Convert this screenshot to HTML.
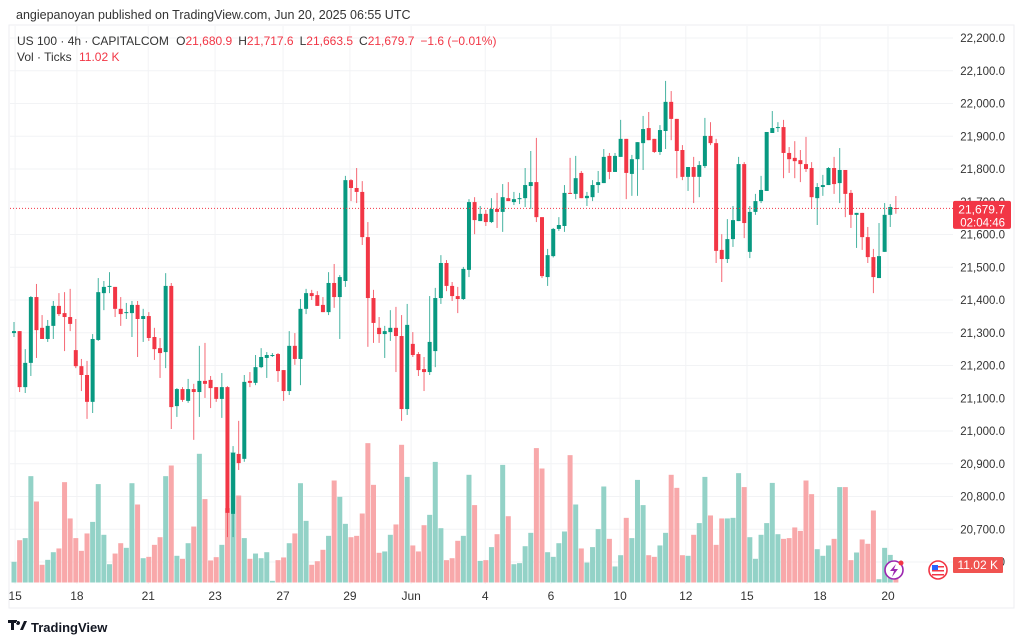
<!DOCTYPE html>
<html><head><meta charset="utf-8">
<style>
html,body{margin:0;padding:0;background:#fff;}
body{width:1024px;height:642px;overflow:hidden;position:relative;font-family:"Liberation Sans",sans-serif;}
#chart{position:absolute;left:0;top:0;}
.t{font-family:"Liberation Sans",sans-serif;}
</style></head>
<body>
<svg id="chart" width="1024" height="642" viewBox="0 0 1024 642">
  <rect x="9" y="25" width="1005" height="583" fill="#fff" stroke="#eceef2" stroke-width="1"/>
  <g id="grid"></g>
  <g id="vols"></g>
  <g id="candles"></g>
  <g id="yaxis"></g>
  <g id="xaxis"></g>
  <text x="16" y="19" font-size="12.5" fill="#333" class="t">angiepanoyan published on TradingView.com, Jun 20, 2025 06:55 UTC</text>
  <text x="17" y="45" font-size="12" fill="#333" class="t">US 100 · 4h · CAPITALCOM  <tspan dx="4">O</tspan><tspan fill="#f23645">21,680.9</tspan><tspan dx="6">H</tspan><tspan fill="#f23645">21,717.6</tspan><tspan dx="6">L</tspan><tspan fill="#f23645">21,663.5</tspan><tspan dx="6">C</tspan><tspan fill="#f23645">21,679.7</tspan><tspan dx="6" fill="#f23645">−1.6 (−0.01%)</tspan></text>
  <text x="17" y="61" font-size="12" fill="#333" class="t">Vol · Ticks <tspan dx="4" fill="#f23645">11.02 K</tspan></text>
  <g>
    <path d="M8 620 h9 v3 h-3 v7 h-3 v-7 h-3z M18 621 a2 2 0 1 0 0.1 0z M20 630 l4 -9 h3 l-4 9z" fill="#131722"/>
    <text x="31" y="632" font-size="13" fill="#131722" class="t" font-weight="bold">TradingView</text>
  </g>
</svg>
<script>
const opens=[21299,21305,21134,21208,21409,21315,21281,21321,21382,21360,21348,21247,21198,21171,21089,21278,21421,21440,21440,21373,21360,21360,21385,21342,21351,21287,21253,21241,21443,21076,21128,21092,21128,21119,21153,21156,21134,21098,21134,20747,20930,20915,21153,21147,21195,21223,21229,21235,21186,21122,21260,21220,21373,21421,21415,21385,21363,21452,21409,21458,21766,21742,21730,21592,21406,21315,21296,21302,21315,21290,21067,21266,21235,21189,21180,21244,21406,21513,21443,21412,21403,21492,21699,21641,21663,21638,21678,21669,21711,21699,21708,21711,21748,21760,21653,21470,21534,21617,21626,21727,21724,21788,21711,21714,21751,21757,21840,21791,21837,21892,21785,21830,21879,21925,21892,21852,21916,22005,21953,21858,21776,21806,21776,21809,21901,21879,21553,21525,21586,21641,21815,21547,21669,21702,21733,21910,21925,21928,21849,21834,21827,21815,21803,21711,21745,21751,21803,21757,21797,21727,21660,21666,21592,21531,21467,21547,21660,21680.9];
const highs=[21333,21305,21250,21412,21449,21354,21339,21397,21421,21424,21434,21342,21220,21214,21296,21467,21458,21485,21440,21409,21391,21397,21397,21373,21363,21315,21284,21482,21452,21131,21134,21159,21144,21260,21269,21168,21134,21177,21137,20954,21031,21171,21180,21232,21253,21241,21238,21238,21186,21305,21299,21403,21434,21431,21427,21409,21485,21510,21476,21779,21769,21803,21763,21638,21431,21348,21321,21369,21379,21354,21388,21302,21241,21226,21412,21437,21537,21522,21455,21440,21501,21708,21714,21687,21675,21711,21727,21754,21760,21730,21727,21803,21855,21895,21653,21556,21620,21653,21751,21834,21840,21794,21730,21766,21794,21861,21849,21849,21950,21892,21843,21882,21962,21974,21892,21934,22069,22038,21953,21873,21806,21837,21824,21956,21943,21892,21601,21647,21687,21837,21821,21687,21724,21779,21913,21977,21943,21950,21867,21885,21858,21898,21821,21757,21782,21806,21837,21864,21797,21736,21666,21666,21623,21556,21635,21696,21693,21717.6];
const lows=[21287,21119,21116,21168,21223,21281,21272,21281,21351,21244,21305,21192,21122,21037,21055,21275,21369,21421,21348,21321,21342,21287,21226,21272,21275,21217,21162,21192,21006,21043,21089,21086,20973,21043,21101,21070,21089,21040,20676,20676,20881,20906,21134,21140,21192,21162,21226,21150,21092,21110,21202,21140,21357,21400,21382,21363,21354,21376,21281,21440,21702,21696,21568,21257,21269,21269,21223,21275,21180,21031,21049,21226,21168,21122,21171,21195,21388,21427,21397,21360,21400,21470,21601,21641,21626,21635,21620,21608,21702,21690,21693,21684,21678,21638,21467,21443,21530,21611,21608,21724,21708,21711,21687,21702,21727,21757,21769,21791,21837,21708,21718,21718,21797,21888,21849,21843,21861,21888,21772,21766,21733,21696,21714,21803,21873,21513,21455,21513,21562,21641,21589,21528,21660,21696,21733,21910,21913,21772,21788,21772,21760,21791,21678,21629,21718,21751,21724,21696,21653,21620,21559,21553,21513,21421,21467,21547,21623,21663.5];
const closes=[21305,21134,21208,21409,21308,21281,21321,21382,21357,21348,21327,21198,21171,21089,21281,21424,21440,21443,21373,21357,21363,21385,21342,21351,21284,21250,21238,21443,21073,21128,21095,21128,21119,21153,21144,21131,21098,21134,20750,20933,20902,21150,21147,21195,21226,21232,21232,21183,21122,21260,21220,21373,21421,21412,21382,21363,21452,21409,21470,21766,21742,21730,21592,21406,21330,21296,21305,21315,21290,21067,21324,21232,21186,21180,21272,21406,21513,21443,21412,21403,21495,21699,21644,21663,21638,21678,21669,21714,21702,21708,21711,21751,21760,21653,21473,21537,21617,21629,21727,21724,21772,21711,21718,21751,21760,21837,21791,21840,21892,21788,21830,21882,21922,21888,21852,21919,22005,21953,21855,21776,21806,21776,21812,21901,21879,21550,21525,21586,21644,21815,21635,21669,21702,21736,21913,21925,21928,21849,21830,21824,21815,21800,21714,21745,21751,21803,21754,21797,21724,21660,21666,21592,21531,21470,21534,21660,21684,21679.7];
const volumes=[13.8,28.2,29.6,70.9,54.0,11.8,15.1,20.2,22.7,66.9,42.7,29.6,21.1,32.7,40.4,65.6,31.8,12.2,19.3,26.2,23.1,66.2,52.0,16.2,17.1,25.1,30.2,70.9,78.0,17.8,15.8,26.2,37.3,85.8,55.6,14.7,16.9,25.1,49.6,86.9,58.0,29.6,15.8,19.3,16.2,20.2,1.1,14.9,16.7,26.2,32.7,66.2,41.1,11.8,14.2,21.8,31.1,68.0,57.1,39.1,30.2,31.1,46.0,92.9,65.1,19.8,20.7,31.8,38.7,91.8,70.4,24.7,20.7,38.2,45.1,80.4,36.2,14.9,16.2,27.8,31.1,71.8,51.6,14.4,14.9,23.6,32.2,78.4,44.2,12.2,12.9,24.2,33.1,89.6,76.0,20.2,17.1,26.2,34.0,84.9,52.0,22.7,13.3,23.6,35.6,64.0,29.1,10.7,18.2,43.1,29.6,68.4,51.6,18.2,17.1,24.7,33.1,71.8,63.1,18.2,17.8,31.8,39.6,70.4,44.7,25.1,42.7,42.7,43.1,72.9,63.6,30.2,15.8,31.8,39.6,66.4,32.2,29.1,29.6,36.7,34.4,68.0,58.9,22.2,17.8,24.7,29.1,63.6,63.6,14.9,20.0,28.7,25.8,48.0,2.2,23.1,18.4,11.02];
const priceTicks=[22200,22100,22000,21900,21800,21700,21600,21500,21400,21300,21200,21100,21000,20900,20800,20700,20600];
const dateTickIdx=[0.2,11.2,23.9,35.8,47.9,59.8,70.7,83.9,95.6,107.9,119.6,130.5,143.5,155.6];
const dateTickLabels=["15","18","21","23","27","29","Jun","4","6","10","12","15","18","20"];
const lastPrice=21679.7;

const NS="http://www.w3.org/2000/svg";
function yOf(p){return 38+(22200-p)*0.3275;}
function xOf(i){return 14+i*5.617;}
const VBASE=582.5;
function vh(v){return v*1.5;}
function mk(tag,attrs,parent){const e=document.createElementNS(NS,tag);for(const k in attrs)e.setAttribute(k,attrs[k]);parent.appendChild(e);return e;}
const G=document.getElementById('grid'),V=document.getElementById('vols'),C=document.getElementById('candles'),YA=document.getElementById('yaxis'),XA=document.getElementById('xaxis');
const svg=document.getElementById('chart');

priceTicks.forEach(p=>{
  const l=mk('line',{x1:10,x2:953,y1:yOf(p),y2:yOf(p),stroke:'#f2f3f5','stroke-width':1},G);
  
  
  const t=mk('text',{x:1005,y:yOf(p)+4,'font-size':11.5,'text-anchor':'end',fill:'#333',class:'t'},YA);
  t.textContent=p.toLocaleString('en-US')+'.0';
  
  
});
dateTickIdx.forEach((d,k)=>{
  const l=mk('line',{x1:xOf(d),x2:xOf(d),y1:26,y2:584,stroke:'#f2f3f5','stroke-width':1},G);
  
  
  const t=mk('text',{x:xOf(d),y:600,'font-size':12,'text-anchor':'middle',fill:'#333',class:'t'},XA);
  t.textContent=dateTickLabels[k];
  
  
});

opens.forEach((o,i)=>{
  const up=closes[i]>=o;
  const x=xOf(i);
  const vb=mk('rect',{x:x-2.5,y:VBASE-vh(volumes[i]),width:5,height:vh(volumes[i]),fill:up?'#93d2c7':'#f8a8aa'},V);
  
  
  const col=up?'#089981':'#f23645';
  const w=mk('line',{x1:x,x2:x,y1:yOf(highs[i]),y2:yOf(lows[i]),stroke:col,'stroke-width':1,'stroke-opacity':0.75},C);
  
  
  const top=yOf(Math.max(o,closes[i])),bot=yOf(Math.min(o,closes[i]));
  const b=mk('rect',{x:x-2,y:top,width:4,height:Math.max(1,bot-top),fill:col},C);
  
  
});

// last price line and labels
const ly=yOf(lastPrice);
const dl=mk('line',{x1:10,x2:953,y1:ly,y2:ly,stroke:'#f23645','stroke-width':1,'stroke-dasharray':'1 2'},svg);


const pb=mk('rect',{x:953,y:ly-7.5,width:58,height:28,rx:2,fill:'#f23645'},svg);


const pt=mk('text',{x:1005,y:ly+5,'font-size':12,'text-anchor':'end',fill:'#fff',class:'t'},svg);
pt.textContent='21,679.7';


const ct=mk('text',{x:1005,y:ly+18,'font-size':11.5,'text-anchor':'end',fill:'#fff',class:'t'},svg);
ct.textContent='02:04:46';


const vbx=mk('rect',{x:953,y:557,width:50,height:16,rx:1,fill:'#f05350'},svg);


const vt=mk('text',{x:998,y:569,'font-size':12,'text-anchor':'end',fill:'#fff',class:'t'},svg);
vt.textContent='11.02 K';



// icons
const ic=mk('g',{},svg);


mk('circle',{cx:894,cy:570,r:9,fill:'#fff',stroke:'#9c27b0','stroke-width':1.6},ic);
mk('path',{d:'M896 564 L890 571 H894 L892 577 L898 569 H894 Z',fill:'#9c27b0'},ic);
mk('circle',{cx:901,cy:563,r:2.5,fill:'#f23645'},ic);
const fl=mk('g',{},svg);


mk('circle',{cx:938,cy:570,r:9,fill:'#fff',stroke:'#f23645','stroke-width':1.6},fl);
mk('rect',{x:932,y:566,width:12,height:1.5,fill:'#f23645'},fl);
mk('rect',{x:932,y:570,width:12,height:1.5,fill:'#f23645'},fl);
mk('rect',{x:932,y:574,width:12,height:1.5,fill:'#f23645'},fl);
mk('rect',{x:932,y:565,width:6,height:5,fill:'#2962ff'},fl);
</script>
</body></html>
